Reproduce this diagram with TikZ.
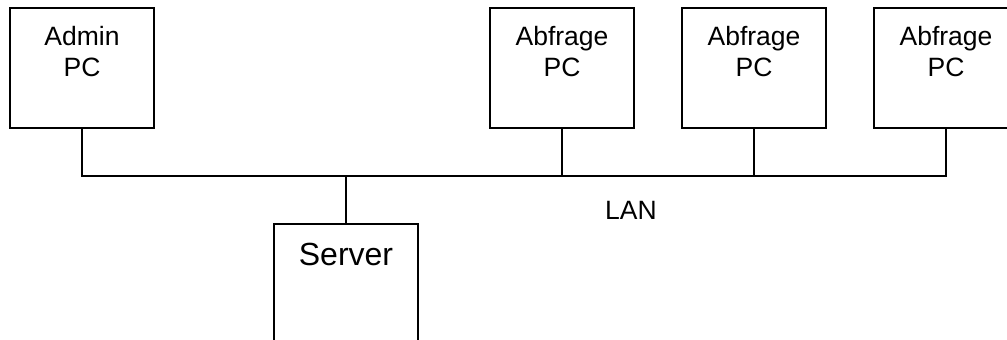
\documentclass[tikz,border=0pt]{standalone}
\usepackage{fontspec}
\setmainfont{Liberation Sans}
\usetikzlibrary{positioning}

\tikzset{
  pcbox/.style={draw, line width=1.2pt, minimum width=144pt, minimum height=120pt, inner sep=0pt},
  pctext/.style={anchor=north, align=center, inner sep=0pt, yshift=-18.5pt, font=\fontsize{26.5}{31.5}\selectfont},
  bus/.style={line width=1.2pt}
}

\begin{document}
\begin{tikzpicture}[x=1pt, y=-1pt]
\useasboundingbox (0,0) rectangle (1007,340);
\clip (0,0) rectangle (1007,340);
\node[pcbox, label={[pctext]north:Admin\\PC}] (admin) at (82,68) {};
\node[pcbox, label={[pctext]north:Abfrage\\PC}] (abf1) at (562,68) {};
\node[pcbox, label={[pctext]north:Abfrage\\PC}] (abf2) at (754,68) {};
\node[pcbox, label={[pctext]north:Abfrage\\PC}] (abf3) at (946,68) {};
\node[pcbox, minimum height=120pt, label={[pctext, yshift=-1pt, font=\fontsize{32}{37}\selectfont]north:Server}] (server) at (346,284) {};
\coordinate (hub) at (346,176);
\node[font=\fontsize{26.5}{31}\selectfont] (lan) at (631,210) {LAN};
\draw[bus] (admin.south) |- (hub) -| (abf3.south);
\draw[bus] (abf1.south) -- (abf1.south |- hub);
\draw[bus] (abf2.south) -- (abf2.south |- hub);
\draw[bus] (server.north) -- (hub);
\end{tikzpicture}
\end{document}
